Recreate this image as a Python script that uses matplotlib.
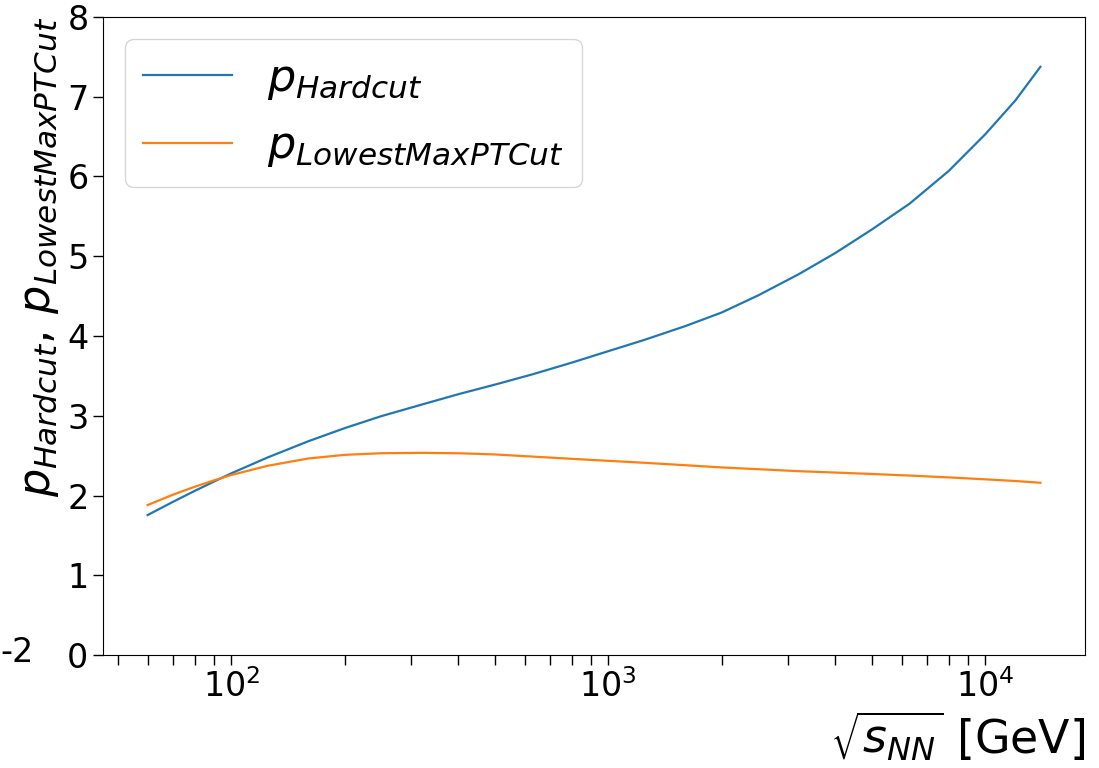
import matplotlib
matplotlib.use("Agg")
import matplotlib.pyplot as plt

# collision energy sqrt(s_NN) in GeV
energies = [60, 70, 80, 90, 100, 125, 160, 200, 250, 320, 400, 500, 630, 800,
            1000, 1250, 1600, 2000, 2500, 3200, 4000, 5000, 6300, 8000,
            10000, 12000, 14000]

# exponent p for the two cut prescriptions
p_hardcut = [1.755, 1.92, 2.058, 2.175, 2.278, 2.478, 2.68, 2.845, 2.995, 3.14,
             3.27, 3.39, 3.52, 3.666, 3.81, 3.953, 4.124, 4.295, 4.51, 4.775,
             5.04, 5.335, 5.66, 6.07, 6.53, 6.95, 7.375]
p_lowest_max_pt = [1.88, 2.01, 2.11, 2.19, 2.257, 2.373, 2.464, 2.51, 2.53, 2.535,
                   2.53, 2.515, 2.488, 2.46, 2.435, 2.41, 2.38, 2.352, 2.33, 2.305,
                   2.288, 2.27, 2.25, 2.227, 2.203, 2.182, 2.16]

fig = plt.figure(figsize=(10.99, 7.68), dpi=100)
ax = fig.add_axes([0.0937, 0.1471, 0.8936, 0.8308])

ax.plot(energies, p_hardcut, color="#1f77b4", lw=1.6, label=r"$p_{Hardcut}$")
ax.plot(energies, p_lowest_max_pt, color="#ff7f0e", lw=1.6, label=r"$p_{LowestMaxPTCut}$")

ax.set_xscale("log")
ax.set_ylim(0, 8)
ax.tick_params(axis="both", which="both", labelsize=24, length=7, width=1)

ax.set_xlabel(r"$\sqrt{s_{NN}}$ [GeV]", fontsize=33, loc="right")
ax.set_ylabel(r"$p_{Hardcut},\, p_{LowestMaxPTCut}$", fontsize=32, loc="top")
ax.legend(loc="upper left", fontsize=32)

# stray tick label left over from a neighbouring panel
fig.text(0.0, 0.15, "-2", fontsize=24, ha="left", va="center")

fig.savefig("out.png", dpi=100)
